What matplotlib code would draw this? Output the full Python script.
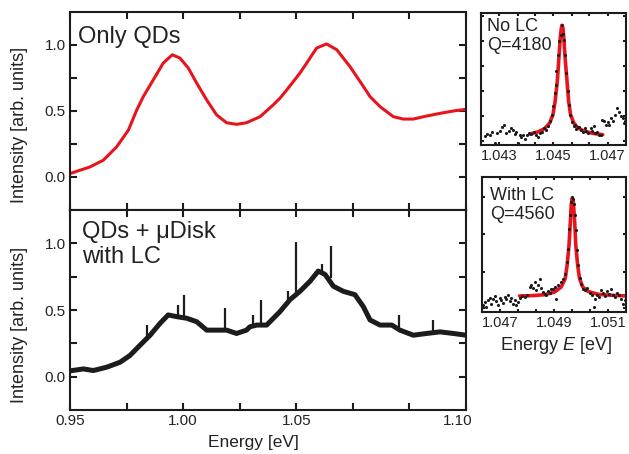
import numpy as np
import matplotlib
matplotlib.use("Agg")
import matplotlib.pyplot as plt
from matplotlib.transforms import ScaledTranslation

plt.rcParams['font.family'] = ['Liberation Sans', 'DejaVu Sans']
plt.rcParams['mathtext.fontset'] = 'custom'
plt.rcParams['mathtext.rm'] = 'Liberation Sans'
plt.rcParams['mathtext.it'] = 'Liberation Sans:italic'

RED = '#e8141c'
BLK = '#1c1c1c'
TXT = '#222222'

# --- top panel: only QDs (smooth PL spectrum) ---
qd_E = [0.9507, 0.9588, 0.9647, 0.9706, 0.9758, 0.9795, 0.9824, 0.9868, 0.9912, 0.9952,
        0.9986, 1.0023, 1.0060, 1.0104, 1.0148, 1.0192, 1.0236, 1.0280, 1.0340, 1.0398,
        1.0428, 1.0458, 1.0487, 1.0516, 1.0546, 1.0575, 1.0590, 1.0634, 1.0679, 1.0737,
        1.0782, 1.0826, 1.0870, 1.0929, 1.0973, 1.1017, 1.1076, 1.1135, 1.1194, 1.1250]
qd_I = [0.030, 0.076, 0.127, 0.228, 0.355, 0.508, 0.609, 0.736, 0.863, 0.926,
        0.901, 0.825, 0.711, 0.584, 0.470, 0.411, 0.399, 0.411, 0.457, 0.546,
        0.597, 0.660, 0.723, 0.787, 0.863, 0.939, 0.977, 1.008, 0.964, 0.837,
        0.723, 0.609, 0.533, 0.457, 0.439, 0.439, 0.462, 0.482, 0.500, 0.513]

# --- bottom panel: QDs + microdisk with LC ---
lc_E = [0.9510, 0.9559, 0.9603, 0.9662, 0.9721, 0.9765, 0.9809, 0.9854, 0.9898, 0.9934,
        0.9972, 1.0016, 1.0060, 1.0104, 1.0148, 1.0192, 1.0236, 1.0280, 1.0295, 1.0325,
        1.0369, 1.0428, 1.0472, 1.0516, 1.0561, 1.0597, 1.0627, 1.0664, 1.0708, 1.0759,
        1.0796, 1.0826, 1.0870, 1.0922, 1.0958, 1.1017, 1.1076, 1.1135, 1.1194, 1.1250]
lc_I = [0.046, 0.058, 0.046, 0.071, 0.108, 0.159, 0.235, 0.311, 0.400, 0.463,
        0.450, 0.438, 0.412, 0.349, 0.349, 0.349, 0.324, 0.349, 0.374, 0.387,
        0.387, 0.488, 0.577, 0.640, 0.716, 0.792, 0.767, 0.678, 0.640, 0.615,
        0.526, 0.425, 0.387, 0.387, 0.349, 0.311, 0.324, 0.336, 0.324, 0.311]

# sharp cavity lines on top of the broad emission
spike_E = [0.9842, 0.9979, 1.0004, 1.0185, 1.0310, 1.0343, 1.0465, 1.0499, 1.0612, 1.0652, 1.0955, 1.1105]
spike_base = [0.29, 0.45, 0.44, 0.35, 0.37, 0.37, 0.56, 0.60, 0.78, 0.74, 0.37, 0.33]
spike_top = [0.387, 0.539, 0.615, 0.514, 0.463, 0.577, 0.640, 1.008, 0.843, 0.977, 0.463, 0.425]

main_ticks = [0.95, 0.975, 1.00, 1.025, 1.05, 1.075, 1.10, 1.125]
main_labels = ['0.95', '', '1.00', '', '1.05', '', '', '1.10']

# --- inset 1: no LC, Q=4180 ---
noLC_E = [1.04245, 1.04255, 1.04264, 1.04273, 1.04282, 1.04292, 1.04301, 1.04309, 1.04317, 1.04325,
          1.04334, 1.04341, 1.04349, 1.04356, 1.04362, 1.04369, 1.04375, 1.04381, 1.04389, 1.04396,
          1.04403, 1.04410, 1.04418, 1.04428, 1.04436, 1.04442, 1.04449, 1.04457, 1.04465, 1.04473,
          1.04479, 1.04486, 1.04494, 1.04499, 1.04504, 1.04508, 1.04511, 1.04516, 1.04521, 1.04526,
          1.04531, 1.04536, 1.04540, 1.04543, 1.04548, 1.04553, 1.04557, 1.04562, 1.04568, 1.04575,
          1.04580, 1.04585, 1.04590, 1.04596, 1.04602, 1.04610, 1.04615, 1.04622, 1.04629, 1.04637,
          1.04642, 1.04649, 1.04654, 1.04662, 1.04669, 1.04676, 1.04681, 1.04686, 1.04694, 1.04701,
          1.04707, 1.04713, 1.04721, 1.04728, 1.04735, 1.04743, 1.04750, 1.04757, 1.04762, 1.04766]
noLC_I = [0.066, 0.083, 0.078, 0.099, 0.015, 0.088, 0.104, 0.134, 0.149, 0.091,
          0.109, 0.129, 0.116, 0.083, 0.099, 0.015, 0.078, 0.058, 0.078, 0.048,
          0.078, 0.091, 0.083, 0.099, 0.078, 0.058, 0.088, 0.099, 0.129, 0.116,
          0.142, 0.179, 0.230, 0.293, 0.394, 0.457, 0.558, 0.684, 0.785, 0.836,
          0.907, 0.841, 0.798, 0.684, 0.546, 0.407, 0.306, 0.230, 0.174, 0.142,
          0.149, 0.124, 0.134, 0.139, 0.116, 0.099, 0.129, 0.109, 0.091, 0.129,
          0.104, 0.142, 0.091, 0.099, 0.078, 0.073, 0.192, 0.179, 0.149, 0.174,
          0.154, 0.205, 0.184, 0.225, 0.280, 0.250, 0.217, 0.205, 0.167, 0.179]
noLC_fitE = [1.04412, 1.04442, 1.04467, 1.04486, 1.04498, 1.04506, 1.04514, 1.04520, 1.04525, 1.04529, 1.04531,
             1.04535, 1.04538, 1.04543, 1.04550, 1.04556, 1.04563, 1.04575, 1.04590, 1.04615, 1.04646, 1.04682]
noLC_fitI = [0.083, 0.099, 0.124, 0.167, 0.230, 0.331, 0.482, 0.659, 0.811, 0.886, 0.907,
             0.886, 0.811, 0.659, 0.482, 0.331, 0.230, 0.167, 0.129, 0.104, 0.088, 0.078]

# --- inset 2: with LC, Q=4560 ---
LC_E = [1.04637, 1.04643, 1.04649, 1.04655, 1.04661, 1.04668, 1.04674, 1.04680, 1.04686, 1.04692,
        1.04698, 1.04704, 1.04711, 1.04717, 1.04723, 1.04729, 1.04735, 1.04741, 1.04748, 1.04754,
        1.04760, 1.04766, 1.04772, 1.04781, 1.04791, 1.04801, 1.04809, 1.04815, 1.04822, 1.04828,
        1.04834, 1.04840, 1.04846, 1.04852, 1.04858, 1.04865, 1.04871, 1.04877, 1.04883, 1.04889,
        1.04895, 1.04902, 1.04908, 1.04914, 1.04924, 1.04932, 1.04941, 1.04946, 1.04951, 1.04955,
        1.04958, 1.04962, 1.04966, 1.04971, 1.04974, 1.04978, 1.04982, 1.04985, 1.04989, 1.04994,
        1.05000, 1.05008, 1.05015, 1.05022, 1.05031, 1.05040, 1.05047, 1.05052, 1.05059, 1.05067,
        1.05074, 1.05081, 1.05089, 1.05096, 1.05104, 1.05111, 1.05118, 1.05126, 1.05133, 1.05140,
        1.05148, 1.05155, 1.05163]
LC_I = [0.049, 0.074, 0.037, 0.086, 0.104, 0.062, 0.099, 0.119, 0.079, 0.054,
        0.104, 0.086, 0.069, 0.111, 0.094, 0.124, 0.079, 0.104, 0.062, 0.086,
        0.049, 0.074, 0.104, 0.119, 0.111, 0.128, 0.185, 0.203, 0.178, 0.222,
        0.161, 0.198, 0.242, 0.178, 0.148, 0.136, 0.124, 0.153, 0.143, 0.168,
        0.173, 0.185, 0.099, 0.198, 0.222, 0.242, 0.284, 0.370, 0.469, 0.617,
        0.716, 0.815, 0.852, 0.835, 0.802, 0.716, 0.605, 0.457, 0.346, 0.252,
        0.210, 0.173, 0.161, 0.178, 0.143, 0.124, 0.037, 0.099, 0.128, 0.111,
        0.161, 0.143, 0.119, 0.153, 0.136, 0.168, 0.128, 0.111, 0.143, 0.124,
        0.099, 0.062, 0.086]
LC_fitE = [1.04772, 1.04815, 1.04865, 1.04902, 1.04926, 1.04941, 1.04948, 1.04955, 1.04960, 1.04963, 1.04967,
           1.04971, 1.04976, 1.04980, 1.04987, 1.04994, 1.05006, 1.05025, 1.05062, 1.05111, 1.05166]
LC_fitI = [0.119, 0.121, 0.128, 0.148, 0.185, 0.247, 0.346, 0.494, 0.667, 0.790, 0.844,
           0.815, 0.667, 0.494, 0.346, 0.247, 0.185, 0.153, 0.131, 0.124, 0.119]

W, H = 629, 454
fig = plt.figure(figsize=(W / 100, H / 100), dpi=100)


def px_axes(x0, y0, x1, y1):
    # axes from pixel box (top-left origin)
    return fig.add_axes([x0 / W, 1 - y1 / H, (x1 - x0) / W, (y1 - y0) / H])


def style(ax, length, fs):
    for s in ax.spines.values():
        s.set_linewidth(1.5)
        s.set_color(BLK)
    ax.tick_params(which='both', direction='in', top=True, right=True,
                   length=length, width=1.5, color=BLK, labelsize=fs,
                   labelcolor=TXT, pad=3)


ax1 = px_axes(70, 12, 466, 210)
ax2 = px_axes(70, 210, 466, 410)
for ax in (ax1, ax2):
    style(ax, 5, 11)
    ax.set_xlim(0.95, 1.125)
    ax.set_ylim(-0.25, 1.25)
    ax.set_xticks(main_ticks, main_labels)
    ax.set_yticks([0, 0.25, 0.5, 0.75, 1.0], ['0.0', '', '0.5', '', '1.0'])
ax1.tick_params(labelbottom=False)

# last label sits a bit left of the axis end
last = ax2.get_xticklabels()[-1]
last.set_transform(last.get_transform() + ScaledTranslation(-0.08, 0, fig.dpi_scale_trans))

ax1.plot(qd_E, qd_I, color=RED, lw=2.2)
ax2.plot(lc_E, lc_I, color=BLK, lw=3.6, solid_joinstyle='round')
ax2.vlines(spike_E, spike_base, spike_top, color=BLK, lw=1.6)

fig.text(78 / W, 1 - 42.7 / H, 'Only QDs', fontsize=17, color=TXT, va='baseline')
fig.text(81.7 / W, 1 - 221 / H, 'QDs + μDisk\nwith LC', fontsize=17, color=TXT,
         va='top', linespacing=1.2)

fig.text(20 / W, 1 - 124.5 / H, 'Intensity [arb. units]', rotation=90, fontsize=13,
         color=TXT, ha='center', va='center')
fig.text(20 / W, 1 - 325 / H, 'Intensity [arb. units]', rotation=90, fontsize=13,
         color=TXT, ha='center', va='center')
fig.text(253 / W, 1 - 435 / H, 'Energy [eV]', fontsize=12.5, color=TXT, ha='center', va='top')

# insets
ax3 = px_axes(481.3, 13, 625.7, 145)
ax4 = px_axes(482, 177, 626.3, 312)
for ax in (ax3, ax4):
    style(ax, 2.5, 10.5)
    ax.set_ylim(0, 1)

ax3.set_xlim(1.04233, 1.04767)
ax3.set_xticks([1.043, 1.04367, 1.04433, 1.045, 1.04567, 1.04633, 1.047],
               ['1.043', '', '', '1.045', '', '', '1.047'])
ax3.set_yticks([0.03, 0.22, 0.41, 0.60, 0.79, 0.98], [])
ax3.plot(noLC_fitE, noLC_fitI, color=RED, lw=2.6, solid_capstyle='round')
ax3.scatter(noLC_E, noLC_I, s=5, color=BLK, zorder=3, linewidths=0)

ax4.set_xlim(1.04633, 1.05167)
ax4.set_xticks([1.047, 1.04767, 1.04833, 1.049, 1.04967, 1.05033, 1.051],
               ['1.047', '', '', '1.049', '', '', '1.051'])
ax4.set_yticks([0.03, 0.30, 0.58, 0.85], [])
ax4.plot(LC_fitE, LC_fitI, color=RED, lw=2.6, solid_capstyle='round')
ax4.scatter(LC_E, LC_I, s=5, color=BLK, zorder=3, linewidths=0)

fig.text(487.3 / W, 1 - 17.9 / H, 'No LC\nQ=4180', fontsize=13, color=TXT, va='top', linespacing=1.15)
fig.text(489.7 / W, 1 - 186.9 / H, 'With LC\nQ=4560', fontsize=13, color=TXT, va='top', linespacing=1.15)
fig.text(556 / W, 1 - 334.5 / H, 'Energy $E$ [eV]', fontsize=13, color=TXT, ha='center', va='top')

fig.savefig('out.png', dpi=100)
